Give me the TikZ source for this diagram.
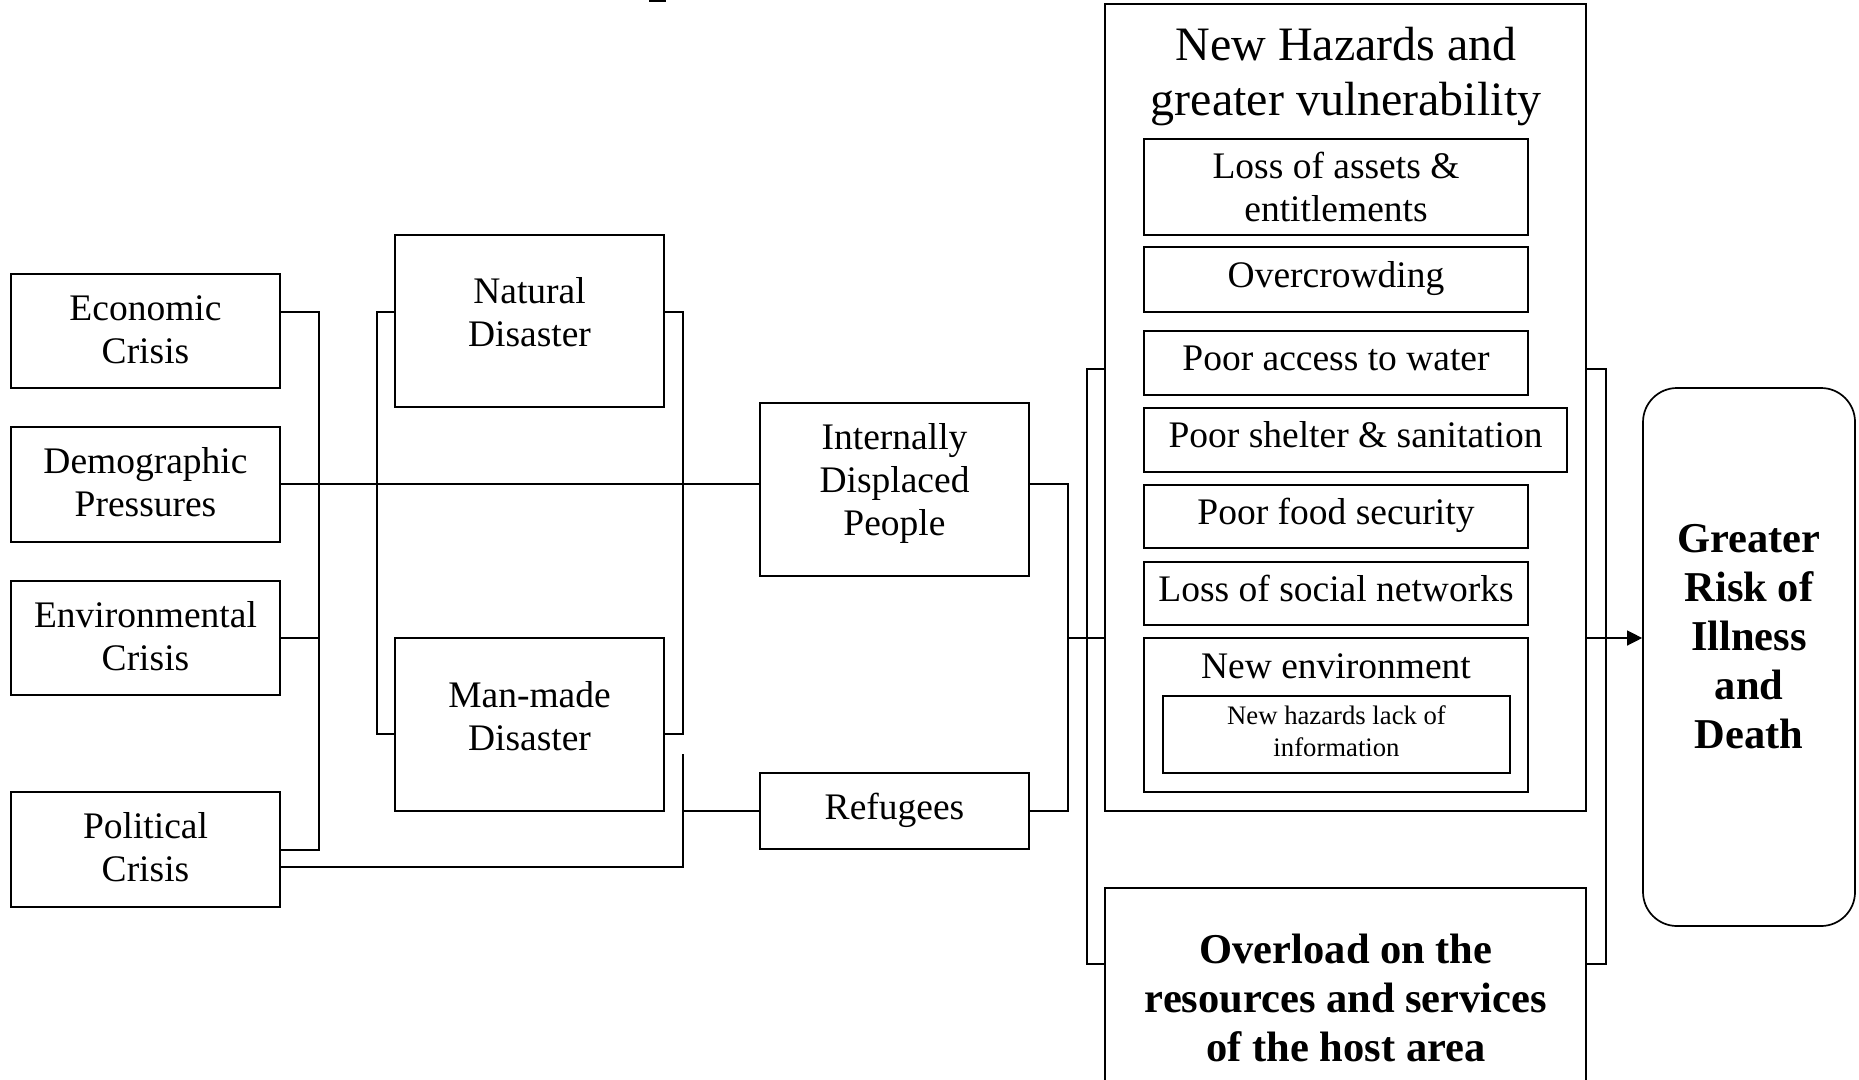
\documentclass[tikz,border=0pt]{standalone}
\usepackage{fontspec}
\setmainfont{Liberation Serif}
\usetikzlibrary{arrows.meta}
\begin{document}
\begin{tikzpicture}[x=1pt,y=-1pt,
  box/.style={draw, line width=1.7pt, inner sep=0pt},
  link/.style={draw, line width=1.3pt},
  txt/.style={inner sep=0pt, align=center, font=\fontsize{37.5}{43}\selectfont},
  title/.style={inner sep=0pt, align=center, font=\fontsize{48}{55}\selectfont},
  small/.style={inner sep=0pt, align=center, font=\fontsize{26.7}{32}\selectfont},
  heavy/.style={inner sep=0pt, align=center, font=\fontsize{42.5}{49}\selectfont\bfseries}]
\useasboundingbox (0,0) rectangle (1859,1079);
\fill[white] (0,0) rectangle (1859,1079);
\clip (0,0) rectangle (1859,1079);

% remnant of a heading above the frame
\fill (649,0) rectangle (666,1.8);

% causes
\node[box, minimum width=269pt, minimum height=114pt] (eco) at (145.5,331) {};
\node[txt] (ecoT) at (145.5,333) {\strut Economic\\\strut Crisis};
\node[box, minimum width=269pt, minimum height=115pt] (dem) at (145.5,484.5) {};
\node[txt] (demT) at (145.5,486.5) {\strut Demographic\\\strut Pressures};
\node[box, minimum width=269pt, minimum height=114pt] (env) at (145.5,638) {};
\node[txt] (envT) at (145.5,640) {\strut Environmental\\\strut Crisis};
\node[box, minimum width=269pt, minimum height=115pt] (pol) at (145.5,849.5) {};
\node[txt] (polT) at (145.5,851.5) {\strut Political\\\strut Crisis};

% disasters
\node[box, minimum width=269pt, minimum height=172pt] (nat) at (529.5,321) {};
\node[txt] (natT) at (529.5,316.5) {\strut Natural\\\strut Disaster};
\node[box, minimum width=269pt, minimum height=173pt] (man) at (529.5,724.5) {};
\node[txt] (manT) at (529.5,720) {\strut Man-made\\\strut Disaster};

% displaced populations
\node[box, minimum width=269pt, minimum height=173pt] (idp) at (894.5,489.5) {};
\node[txt] (idpT) at (894.5,483.5) {\strut Internally\\\strut Displaced\\\strut People};
\node[box, minimum width=269pt, minimum height=76pt] (ref) at (894.5,811) {};
\node[txt] (refT) at (894.5,810.5) {\strut Refugees};

% hazards and vulnerability
\node[box, minimum width=481pt, minimum height=807pt] (haz) at (1345.5,407.5) {};
\node[title] (hazT) at (1346,77) {\strut New Hazards and\\\strut greater vulnerability};
\node[box, minimum width=384pt, minimum height=96pt] (b1) at (1336,187) {};
\node[txt] (t1) at (1336,191.5) {\strut Loss of assets \&\\\strut entitlements};
\node[box, minimum width=384pt, minimum height=65pt] (b2) at (1336,279.5) {};
\node[txt] (t2) at (1336,278.5) {\strut Overcrowding};
\node[box, minimum width=384pt, minimum height=64pt] (b3) at (1336,363) {};
\node[txt] (t3) at (1336,361.5) {\strut Poor access to water};
\node[box, minimum width=423pt, minimum height=64pt] (b4) at (1355.5,440) {};
\node[txt] (t4) at (1355.5,438.5) {\strut Poor shelter \& sanitation};
\node[box, minimum width=384pt, minimum height=63pt] (b5) at (1336,516.5) {};
\node[txt] (t5) at (1336,515.5) {\strut Poor food security};
\node[box, minimum width=384pt, minimum height=63pt] (b6) at (1336,593.5) {};
\node[txt] (t6) at (1336,592.5) {\strut Loss of social networks};
\node[box, minimum width=384pt, minimum height=154pt] (b7) at (1336,715) {};
\node[txt] (t7) at (1336,669.5) {\strut New environment};
\node[box, minimum width=347pt, minimum height=77pt] (b8) at (1336.5,734.5) {};
\node[small] (t8) at (1336.5,734) {\strut New hazards lack of\\\strut information};

% host area
\node[box, minimum width=481pt, minimum height=232pt] (over) at (1345.5,1004) {};
\node[heavy] (overT) at (1346,1002.5) {\strut Overload on the\\\strut resources and services\\\strut of the host area};

% outcome
\node[box, rounded corners=34pt, minimum width=212pt, minimum height=538pt] (risk) at (1749,657) {};
\node[heavy] (riskT) at (1749,640.5) {\strut Greater\\\strut Risk of\\\strut Illness\\\strut and\\\strut Death};

% junction points
\coordinate (ja) at (319,312);
\coordinate (jb) at (319,850);
\coordinate (na) at (377,312);
\coordinate (nb) at (377,734);
\coordinate (ra) at (683,312);
\coordinate (rb) at (683,734);
\coordinate (pa) at (683,867);
\coordinate (pb) at (683,754);
\coordinate (qa) at (1068,484);
\coordinate (qb) at (1068,811);
\coordinate (mid) at (1068,638);
\coordinate (ka) at (1087,369);
\coordinate (kb) at (1087,964);
\coordinate (ma) at (1606,369);
\coordinate (mb) at (1606,964);

% causes bus
\path[link] (eco.east |- ja) -- (ja) -- (jb) -- (pol.east |- jb);
\path[link] (env.east) -- (env.east -| ja);
\path[link] (dem.east |- qa) -- (idp.west |- qa);

% disaster brackets
\path[link] (nat.west |- na) -- (na) -- (nb) -- (man.west |- nb);
\path[link] (nat.east |- ra) -- (ra) -- (rb) -- (man.east |- rb);
\path[link] (pol.east |- pa) -- (pa) -- (pb);
\path[link] (pa |- ref.west) -- (ref.west);

% displaced populations to hazards
\path[link] (idp.east |- qa) -- (qa) -- (qb) -- (ref.east |- qb);
\path[link] (mid) -- (haz.west |- mid);

% bracket around hazards and host area
\path[link] (haz.west |- ka) -- (ka) -- (kb) -- (over.west |- kb);
\path[link] (haz.east |- ma) -- (ma) -- (mb) -- (over.east |- mb);

% result arrow
\path[link, -{Triangle[length=15pt,width=15pt]}] (haz.east |- mid) -- (risk.west |- mid);
\end{tikzpicture}
\end{document}
